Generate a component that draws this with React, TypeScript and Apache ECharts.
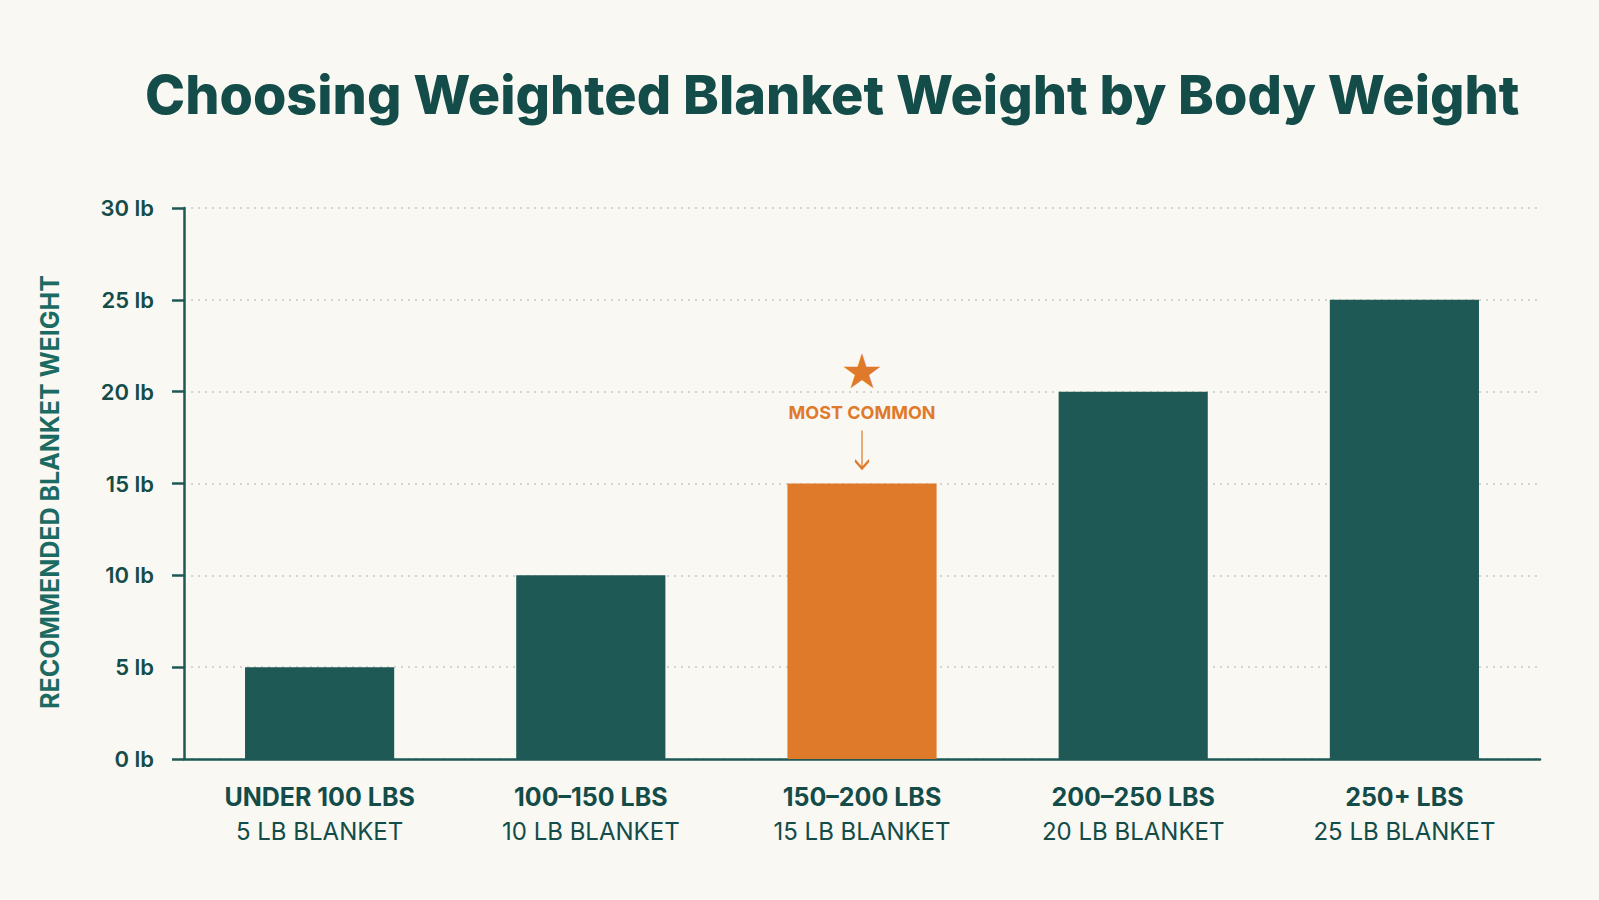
import React, { useEffect, useRef } from "react";
import * as echarts from "echarts";

const categories = ["UNDER 100 LBS", "100–150 LBS", "150–200 LBS", "200–250 LBS", "250+ LBS"];
const blanketLabels = ["5 LB BLANKET", "10 LB BLANKET", "15 LB BLANKET", "20 LB BLANKET", "25 LB BLANKET"];
const blanketWeights = [5, 10, 15, 20, 25];
const highlightIndex = 2;
const yTicks = { min: 0, max: 30, interval: 5 };

const TEAL = "#1e5955";
const DARK = "#134c48";
const ORANGE = "#e07a2b";
const BG = "#f9f8f3";
const FONT = "Inter, 'Noto Sans', sans-serif";

export default function App() {
  const ref = useRef<HTMLDivElement>(null);

  useEffect(() => {
    document.body.style.margin = "0";
    const chart = echarts.init(ref.current!, null, { renderer: "svg" });
    const data = blanketWeights.map((v, i) =>
      i === highlightIndex
        ? {
            value: v,
            itemStyle: { color: ORANGE },
            label: {
              show: true,
              position: "top",
              distance: 56,
              align: "center",
              formatter: "{star|★}\n{txt|MOST COMMON}",
              rich: {
                star: { fontSize: 48, lineHeight: 54, color: ORANGE, fontFamily: "'DejaVu Sans', sans-serif" },
                txt: { fontSize: 18, lineHeight: 30, fontWeight: 700, color: ORANGE, fontFamily: FONT },
              },
            },
          }
        : { value: v }
    );
    chart.setOption({
      animation: false,
      backgroundColor: BG,
      textStyle: { fontFamily: FONT },
      title: {
        text: "Choosing Weighted Blanket Weight by Body Weight",
        left: 140,
        top: 62,
        textStyle: { fontSize: 54, fontWeight: 800, color: DARK, fontFamily: FONT },
      },
      graphic: [
        {
          type: "text",
          x: 50,
          y: 492,
          rotation: Math.PI / 2,
          style: {
            text: "RECOMMENDED BLANKET WEIGHT",
            fontSize: 25,
            fontWeight: 700,
            fill: "#1c6b63",
            fontFamily: FONT,
            align: "center",
            verticalAlign: "middle",
          },
        },
      ],
      grid: { left: 184, right: 59, top: 208, bottom: 141, containLabel: false },
      xAxis: {
        type: "category",
        data: categories,
        axisLine: { show: true, lineStyle: { color: TEAL, width: 2.5 } },
        axisTick: { show: false },
        axisLabel: {
          margin: 21,
          interval: 0,
          formatter: (val: string, idx: number) => `{a|${val}}\n{b|${blanketLabels[idx]}}`,
          rich: {
            a: { fontSize: 25, fontWeight: 700, color: DARK, lineHeight: 34, fontFamily: FONT },
            b: { fontSize: 24, fontWeight: 400, color: DARK, lineHeight: 34, fontFamily: FONT },
          },
        },
      },
      yAxis: {
        type: "value",
        min: yTicks.min,
        max: yTicks.max,
        interval: yTicks.interval,
        axisLine: { show: true, lineStyle: { color: TEAL, width: 2.5 } },
        axisTick: { show: true, length: 12, inside: false, lineStyle: { color: TEAL, width: 2.5 } },
        axisLabel: {
          margin: 30,
          formatter: "{value} lb",
          fontSize: 22,
          fontWeight: 600,
          color: DARK,
          fontFamily: FONT,
        },
        splitLine: { show: true, lineStyle: { color: "#c9c9c4", type: [2, 5], width: 1.5 } },
      },
      series: [
        {
          type: "bar",
          data,
          barWidth: "55%",
          itemStyle: { color: TEAL },
          markPoint: {
            silent: true,
            symbol: "path://M7,0 L7,38 M0,30 L7,38 L14,30",
            symbolSize: [14, 38],
            symbolKeepAspect: false,
            itemStyle: { color: "none", borderColor: ORANGE, borderWidth: 2 },
            label: { show: false },
            data: [
              {
                coord: [categories[highlightIndex], blanketWeights[highlightIndex]],
                symbolOffset: [0, -34],
              },
            ],
          },
        },
      ],
    });
    return () => chart.dispose();
  }, []);

  return <div ref={ref} style={{ position: "fixed", left: 0, top: 0, width: 1599, height: 900 }} />;
}
